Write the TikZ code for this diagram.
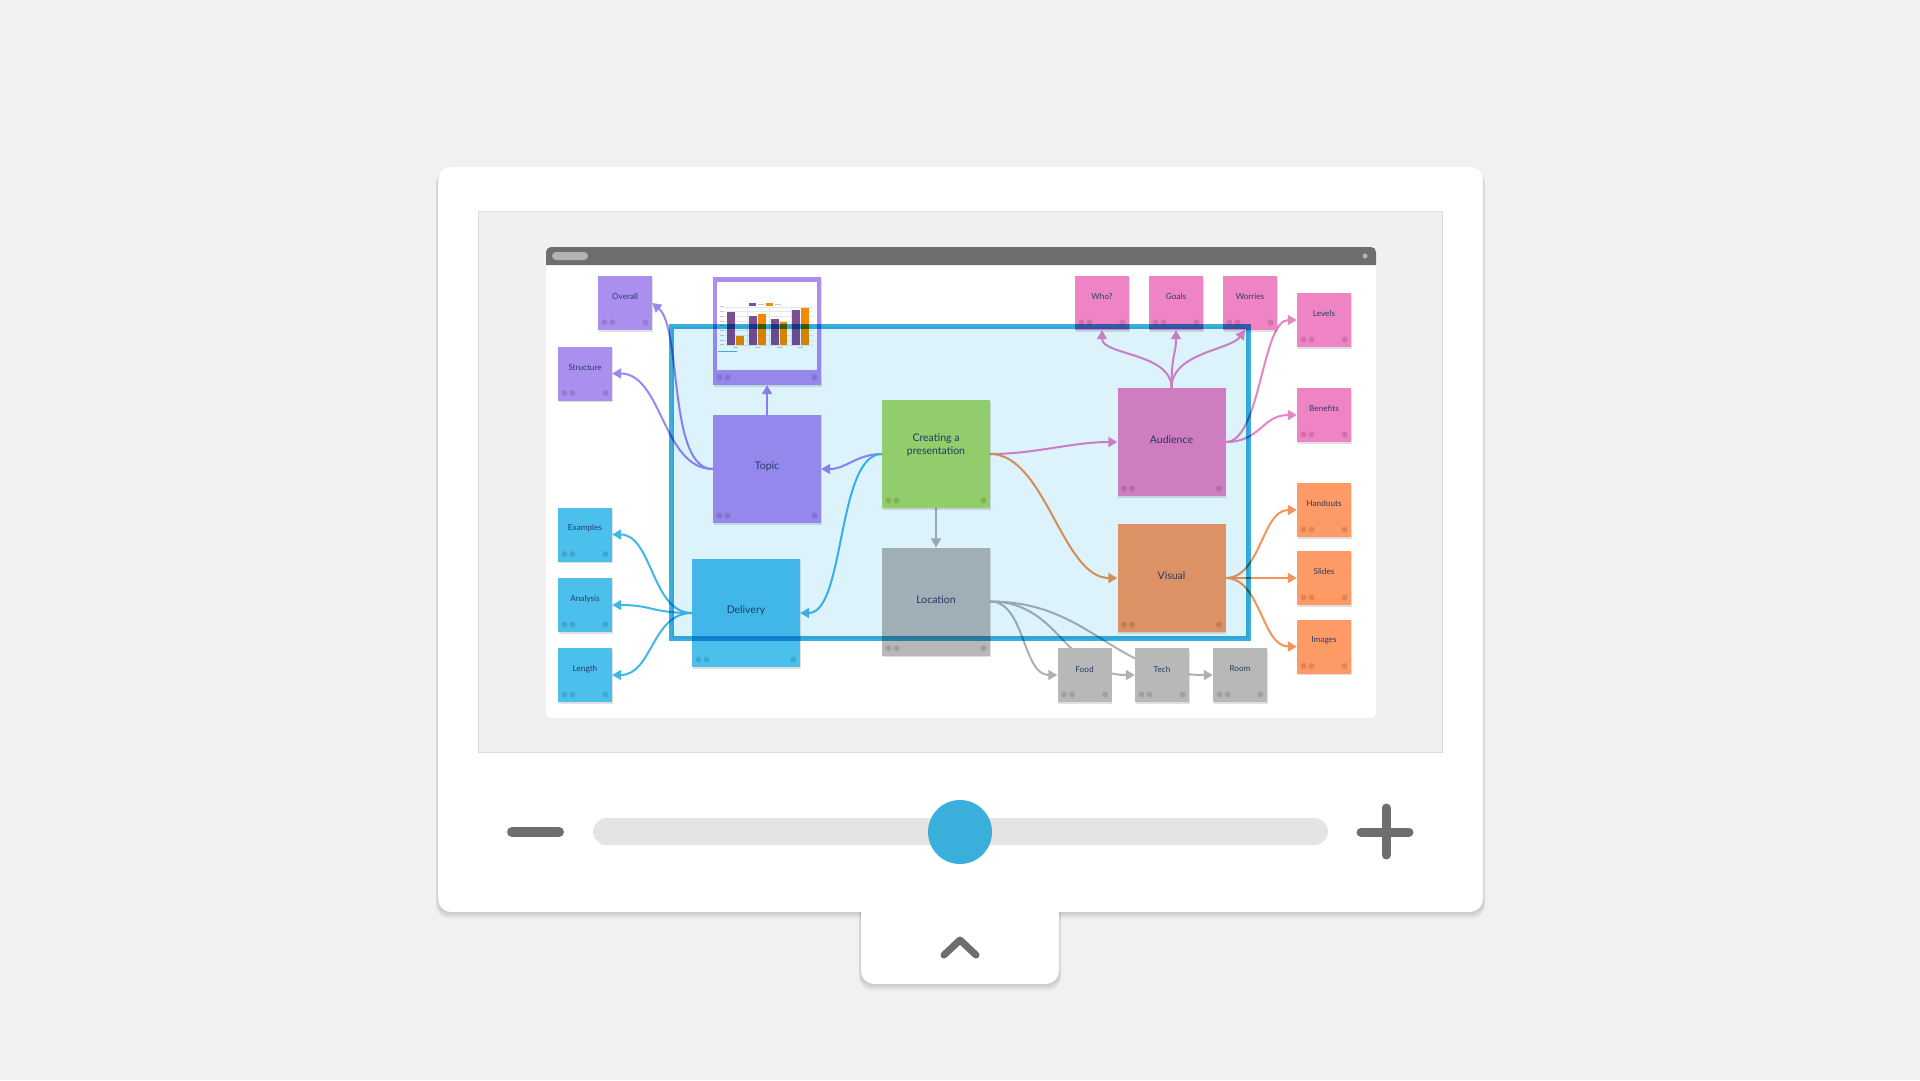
\documentclass[tikz,border=0pt]{standalone}
\usepackage{fontspec}
\setmainfont{Lato}
\usetikzlibrary{arrows.meta}

\definecolor{bgc}{HTML}{F1F1F1}
\definecolor{framec}{HTML}{F0F0F0}
\definecolor{framel}{HTML}{DCDCDC}
\definecolor{barc}{HTML}{6D6E70}
\definecolor{pillc}{HTML}{B3B3B3}
\definecolor{iconc}{HTML}{6E6E6E}
\definecolor{trackc}{HTML}{E4E4E4}
\definecolor{knobc}{HTML}{3AAFDB}
\definecolor{txt}{HTML}{2A3B67}
\definecolor{lpurple}{HTML}{AB8FEF}
\definecolor{pinkn}{HTML}{EF84C4}
\definecolor{orangen}{HTML}{FE9A66}
\definecolor{bluen}{HTML}{4BC0EC}
\definecolor{greyn}{HTML}{B8B8B8}
\definecolor{greenn}{HTML}{A8D86C}
\definecolor{purplec}{HTML}{9B87EF}
\definecolor{bluec}{HTML}{40B7E8}
\definecolor{greyc}{HTML}{ABB2B7}
\definecolor{pinkc}{HTML}{E884C6}
\definecolor{orangec}{HTML}{F5935C}
\definecolor{selfill}{HTML}{DDF3FC}
\definecolor{selline}{HTML}{3AAFDC}
\definecolor{gridc}{HTML}{E6E6E6}
\definecolor{labc}{HTML}{C8C8C8}
\definecolor{barp}{HTML}{7B4F93}
\definecolor{baro}{HTML}{F28A06}

\pgfdeclarelayer{bg}
\pgfdeclarelayer{edges}
\pgfdeclarelayer{top}
\pgfsetlayers{bg,edges,main,top}

\tikzset{
  sticky/.style={rectangle, fill=#1, minimum width=54pt, minimum height=54pt,
    inner sep=0pt,
    preaction={fill=black, fill opacity=.12, transform canvas={xshift=.6pt, yshift=-1.6pt}},
    path picture={
      \fill[black, fill opacity=.13]
        ([shift={(6.5pt,7.5pt)}]path picture bounding box.south west) circle (3pt)
        ([shift={(14.5pt,7.5pt)}]path picture bounding box.south west) circle (3pt)
        ([shift={(-6.5pt,7.5pt)}]path picture bounding box.south east) circle (3pt);
    }},
  big/.style={minimum width=108pt, minimum height=108pt},
  notetext/.style={font=\fontsize{8.2}{10}\selectfont, text=txt, inner sep=0pt},
  bigtext/.style={font=\fontsize{10.5}{13.3}\selectfont, text=txt, inner sep=0pt, align=center},
  note/.style={label={[notetext, yshift=6pt]center:#1}},
  bignote/.style={label={[bigtext, yshift=2pt]center:#1}},
  link/.style={draw=#1, line width=2pt, -{Triangle[length=9pt,width=10pt]}},
  shadowlayer/.style={fill=black, fill opacity=.028, rounded corners=13pt},
}

\begin{document}
\begin{tikzpicture}[x=1pt,y=-1pt]
\useasboundingbox (0,0) rectangle (1920,1080);

% ---------- device frame ----------
\begin{pgfonlayer}{bg}
\fill[bgc] (0,0) rectangle (1920,1080);
% soft shadows under the panel and the tab
\foreach \s in {1,...,6}{
  \fill[shadowlayer] ({438-\s*0.4},{167+\s*0.8}) rectangle ({1483+\s*0.4},{912+\s*1.1});
  \fill[shadowlayer] ({861-\s*0.4},{900}) rectangle ({1059+\s*0.4},{984+\s*1.1});
}
\fill[white, rounded corners=13pt] (438,167) rectangle (1483,912);
\fill[white, rounded corners=13pt] (861,890) rectangle (1059,984);

% screen area
\filldraw[fill=framec, draw=framel, line width=1pt] (478.5,211.5) rectangle (1442.5,752.5);
\fill[white, rounded corners=5pt] (546,247) rectangle (1376,718);
\fill[barc] (546,265) {[rounded corners=5pt] -- (546,247) -- (1376,247)} -- (1376,265) -- cycle;
\fill[pillc, rounded corners=4pt] (552,252) rectangle (588,260);
\fill[pillc] (1365,256) circle (2.5pt);

% zoom controls
\draw[iconc, line width=10pt, line cap=round] (512,832) -- (559,832);
\fill[trackc, rounded corners=13.5pt] (593,818) rectangle (1328,845);
\fill[knobc] (960,832) circle (32pt);
\draw[iconc, line width=9pt, line cap=round] (1361,832) -- (1409,832) (1386,808) -- (1386,855);
\draw[iconc, line width=7pt, line cap=round, line join=round] (944,955) -- (960,940) -- (976,955);
\end{pgfonlayer}

% ---------- sticky notes ----------
\node[sticky=lpurple, note=Overall] (overall) at (625,303) {};
\node[sticky=lpurple, note=Structure] (structure) at (585,373.5) {};
\node[sticky=bluen, note=Examples] (examples) at (585,534.5) {};
\node[sticky=bluen, note=Analysis] (analysis) at (585,605) {};
\node[sticky=bluen, note=Length] (length) at (585,675) {};
\node[sticky=lpurple, big] (chart) at (767,331) {};
\node[sticky=lpurple, big, bignote=Topic] (topic) at (767,469) {};
\node[sticky=bluen, big, bignote=Delivery] (delivery) at (746,613) {};
\node[sticky=greenn, big, label={[bigtext, yshift=9pt]center:{Creating a\\presentation}}] (creating) at (936,454) {};
\node[sticky=greyn, big, bignote=Location] (location) at (936,601.5) {};
\node[sticky=pinkn, big, bignote=Audience] (audience) at (1171.5,442) {};
\node[sticky=orangen, big, bignote=Visual] (visual) at (1171.5,578) {};
\node[sticky=pinkn, note=Who?] (who) at (1102,303) {};
\node[sticky=pinkn, note=Goals] (goals) at (1176,303) {};
\node[sticky=pinkn, note=Worries] (worries) at (1250,303) {};
\node[sticky=pinkn, note=Levels] (levels) at (1324,320) {};
\node[sticky=pinkn, note=Benefits] (benefits) at (1324,415) {};
\node[sticky=orangen, note=Handouts] (handouts) at (1324,510) {};
\node[sticky=orangen, note=Slides] (slides) at (1324,578) {};
\node[sticky=orangen, note=Images] (images) at (1324,646.5) {};
\node[sticky=greyn, note=Food] (food) at (1084.5,675) {};
\node[sticky=greyn, note=Tech] (tech) at (1162,675) {};
\node[sticky=greyn, note=Room] (room) at (1240,675) {};

% bar chart pinned on the purple note
\fill[white] (717,282) rectangle (817,370);
\foreach \g in {0,...,8}{
  \draw[gridc, line width=.4pt] (725,{344.7-\g*4.75}) -- (813,{344.7-\g*4.75});
  \draw[labc, line width=.8pt] (720,{344.7-\g*4.75}) -- (723.5,{344.7-\g*4.75});
}
\foreach \x in {747,769,791} \draw[gridc, line width=.4pt] (\x,306.7) -- (\x,344.7);
\fill[barp] (727,312) rectangle (735,345);
\fill[baro] (736,336) rectangle (744,345);
\fill[barp] (749,316) rectangle (757,345);
\fill[baro] (758,314) rectangle (766,345);
\fill[barp] (771,319) rectangle (779,345);
\fill[baro] (780,322) rectangle (787,345);
\fill[barp] (792,310) rectangle (800,345);
\fill[baro] (801,308) rectangle (809,345);
\fill[barp] (749,302.5) rectangle (756,305.5);
\draw[labc, line width=.8pt] (757.5,304) -- (764,304);
\fill[baro] (766,302.5) rectangle (773,305.5);
\draw[labc, line width=.8pt] (774.5,304) -- (781,304);
\foreach \x in {735.5,757.5,779,800.5} \draw[labc, line width=.8pt] ({\x-2.5},347.8) -- ({\x+2.5},347.8);
\draw[bluec, line width=.8pt] (718,351.5) -- (737,351.5);

% ---------- connectors ----------
\begin{pgfonlayer}{edges}
\draw[link=purplec] (creating.west) .. controls +(-25,0) and +(25,0) .. (topic.east);
\draw[link=bluec] (creating.west) .. controls +(-45,0) and +(45,0) .. (delivery.east);
\draw[link=purplec] (topic.west) .. controls +(-45,0) and +(30,25) .. (overall.east);
\draw[link=purplec] (topic.west) .. controls +(-50,0) and +(50,0) .. (structure.east);
\draw[link=purplec] (topic.north) -- (chart.south);
\draw[link=greyc] (creating.south) -- (location.north);
\draw[link=pinkc] (creating.east) .. controls +(45,0) and +(-45,0) .. (audience.west);
\draw[link=orangec] (creating.east) .. controls +(55,0) and +(-55,0) .. (visual.west);
\foreach \tgt in {examples,analysis,length}
  \draw[link=bluec] (delivery.west) .. controls +(-40,0) and +(40,0) .. (\tgt.east);
\draw[link=pinkc] (audience.north) .. controls +(0,-35) and +(0,25) .. (who.south);
\draw[link=pinkc] (audience.north) .. controls +(0,-35) and +(0,25) .. (goals.south);
\draw[link=pinkc] (audience.north) .. controls +(0,-35) and +(-15,20) .. ([xshift=-5pt]worries.south);
\foreach \tgt in {levels,benefits}
  \draw[link=pinkc] (audience.east) .. controls +(35,0) and +(-35,0) .. (\tgt.west);
\foreach \tgt in {handouts,slides,images}
  \draw[link=orangec] (visual.east) .. controls +(35,0) and +(-35,0) .. (\tgt.west);
\draw[link=greyc] (location.east) .. controls +(35,0) and +(-35,0) .. (food.west);
\draw[link=greyc] (location.east) .. controls +(70,0) and +(-70,0) .. (tech.west);
\draw[link=greyc] (location.east) .. controls +(100,0) and +(-100,0) .. (room.west);
\end{pgfonlayer}

% ---------- selection box ----------
\begin{pgfonlayer}{top}
\begin{scope}[blend mode=multiply]
\fill[selfill] (671.5,326.5) rectangle (1248.5,638.5);
\draw[selline, line width=5pt] (671.5,326.5) rectangle (1248.5,638.5);
\end{scope}
\end{pgfonlayer}
\end{tikzpicture}
\end{document}
